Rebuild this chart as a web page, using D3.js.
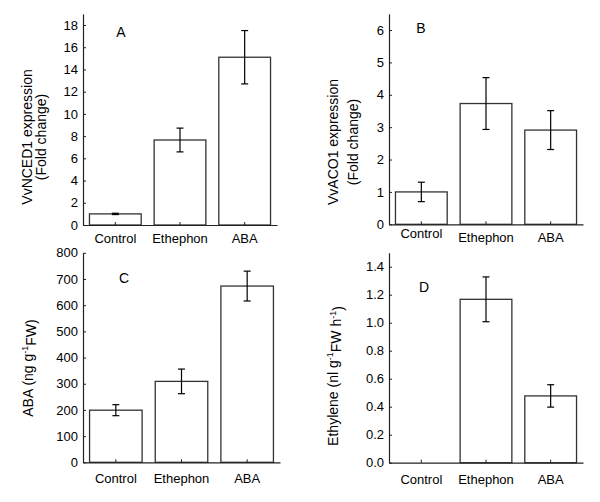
<!DOCTYPE html>
<html><head><meta charset="utf-8">
<script src="https://cdn.jsdelivr.net/npm/d3@7"></script>
<style>body{margin:0;background:#fff}svg{display:block}text{font-family:Arial,"Liberation Sans",sans-serif;fill:#000}</style>
</head><body><svg id="c" width="600" height="502"></svg>
<script>
const categories = ["Control", "Ethephon", "ABA"];
const nced1Values = [1.0, 7.65, 15.1];
const nced1Errors = [0.06, 1.07, 2.4];
const aco1Values = [1.0, 3.73, 2.91];
const aco1Errors = [0.3, 0.8, 0.6];
const abaValues = [199, 309, 673];
const abaErrors = [21, 47, 57];
const ethyleneValues = [0, 1.167, 0.477];
const ethyleneErrors = [0, 0.16, 0.08];
const nced1Ticks = [0, 2, 4, 6, 8, 10, 12, 14, 16, 18];
const aco1Ticks = [0, 1, 2, 3, 4, 5, 6];
const abaTicks = [0, 100, 200, 300, 400, 500, 600, 700, 800];
const ethyleneTicks = [0, 0.2, 0.4, 0.6, 0.8, 1.0, 1.2, 1.4];

const svg = d3.select("#c");

const panels = [
  {letter:"A", vals:nced1Values, errs:nced1Errors, ticks:nced1Ticks, max:19, fmt:d3.format("d"),
   x0:83, x1:277, y0:225, y1:13.9, lx:121, ly:32, labPad:[8.5,8.5,8.5],
   title:[["VvNCED1 expression"],["(Fold change)"]], tx:[27,41], ty:137},
  {letter:"B", vals:aco1Values, errs:aco1Errors, ticks:aco1Ticks, max:6.5, fmt:d3.format("d"),
   x0:389, x1:583, y0:224.3, y1:13.85, lx:421, ly:28, labPad:[4.5,8.5,8.5],
   title:[["VvACO1 expression"],["(Fold change)"]], tx:[333,353], ty:142},
  {letter:"C", vals:abaValues, errs:abaErrors, ticks:abaTicks, max:800, fmt:d3.format("d"),
   x0:83, x1:280, y0:462.3, y1:252.8, lx:124, ly:278, labPad:[11.5,11.5,11.5],
   title:[["ABA (ng g","-1","FW)"]], tx:[28], ty:368},
  {letter:"D", vals:ethyleneValues, errs:ethyleneErrors, ticks:ethyleneTicks, max:1.5, fmt:d3.format(".1f"),
   x0:389, x1:583, y0:462.7, y1:252.7, lx:424, ly:287, labPad:[12,12,12],
   title:[["Ethylene (nl g","-1","FW h","-1",")"]], tx:[333], ty:376}
];

panels.forEach(p => {
  const g = svg.append("g");
  const x = d3.scaleBand().domain(categories).range([p.x0, p.x1]).paddingInner(0.2).paddingOuter(0.1);
  const y = d3.scaleLinear().domain([0, p.max]).range([p.y0, p.y1]);

  // bars
  const data = categories.map((c,i)=>({c, v:p.vals[i], e:p.errs[i]}));
  g.selectAll("rect.bar").data(data.filter(d=>d.v>0)).join("rect")
    .attr("x", d=>x(d.c)).attr("width", x.bandwidth())
    .attr("y", d=>y(d.v)).attr("height", d=>y(0)-y(d.v))
    .attr("fill","#fff").attr("stroke","#333").attr("stroke-width",1.3);

  // error bars
  const eb = g.selectAll("g.eb").data(data.filter(d=>d.e>0)).join("g")
    .attr("stroke","#000").attr("stroke-width",1.2);
  eb.append("line").attr("x1",d=>x(d.c)+x.bandwidth()/2).attr("x2",d=>x(d.c)+x.bandwidth()/2)
    .attr("y1",d=>y(d.v+d.e)).attr("y2",d=>y(d.v-d.e));
  eb.append("line").attr("x1",d=>x(d.c)+x.bandwidth()/2-3.5).attr("x2",d=>x(d.c)+x.bandwidth()/2+3.5)
    .attr("y1",d=>y(d.v+d.e)).attr("y2",d=>y(d.v+d.e));
  eb.append("line").attr("x1",d=>x(d.c)+x.bandwidth()/2-3.5).attr("x2",d=>x(d.c)+x.bandwidth()/2+3.5)
    .attr("y1",d=>y(d.v-d.e)).attr("y2",d=>y(d.v-d.e));

  // y axis
  const ya = g.append("g").attr("transform",`translate(${p.x0},0)`)
    .call(d3.axisLeft(y).tickValues(p.ticks).tickFormat(p.fmt).tickSize(-3).tickSizeOuter(0).tickPadding(5));
  ya.select(".domain").attr("stroke","#222").attr("stroke-width",1.2);
  ya.selectAll(".tick line").attr("stroke","#222");
  ya.selectAll("text").attr("font-size",13).attr("font-family","Arial, 'Liberation Sans', sans-serif");

  // x axis
  const xa = g.append("g").attr("transform",`translate(0,${p.y0})`)
    .call(d3.axisBottom(x).tickSize(-3).tickSizeOuter(0).tickPadding(0));
  xa.select(".domain").attr("stroke","#222").attr("stroke-width",1.2);
  xa.selectAll(".tick line").attr("stroke","#222");
  xa.selectAll("text").attr("font-size",13).attr("font-family","Arial, 'Liberation Sans', sans-serif")
    .attr("y",(d,i)=>p.labPad[i]);

  // panel letter
  g.append("text").attr("x",p.lx).attr("y",p.ly).attr("dy","0.35em").attr("text-anchor","middle")
    .attr("font-size",14).text(p.letter);

  // y title
  p.title.forEach((parts,li)=>{
    const t = g.append("text").attr("transform",`translate(${p.tx[li]},${p.ty}) rotate(-90)`)
      .attr("text-anchor","middle").attr("dy","0.35em").attr("font-size",14);
    parts.forEach((s,k)=>{
      if (k%2===1) t.append("tspan").attr("font-size",9).attr("dy","-0.55em").text(s)
        .each(function(){});
      else {
        const ts = t.append("tspan").text(s);
        if (k>0) ts.attr("dy","0.55em");
      }
    });
  });
});
</script></body></html>
